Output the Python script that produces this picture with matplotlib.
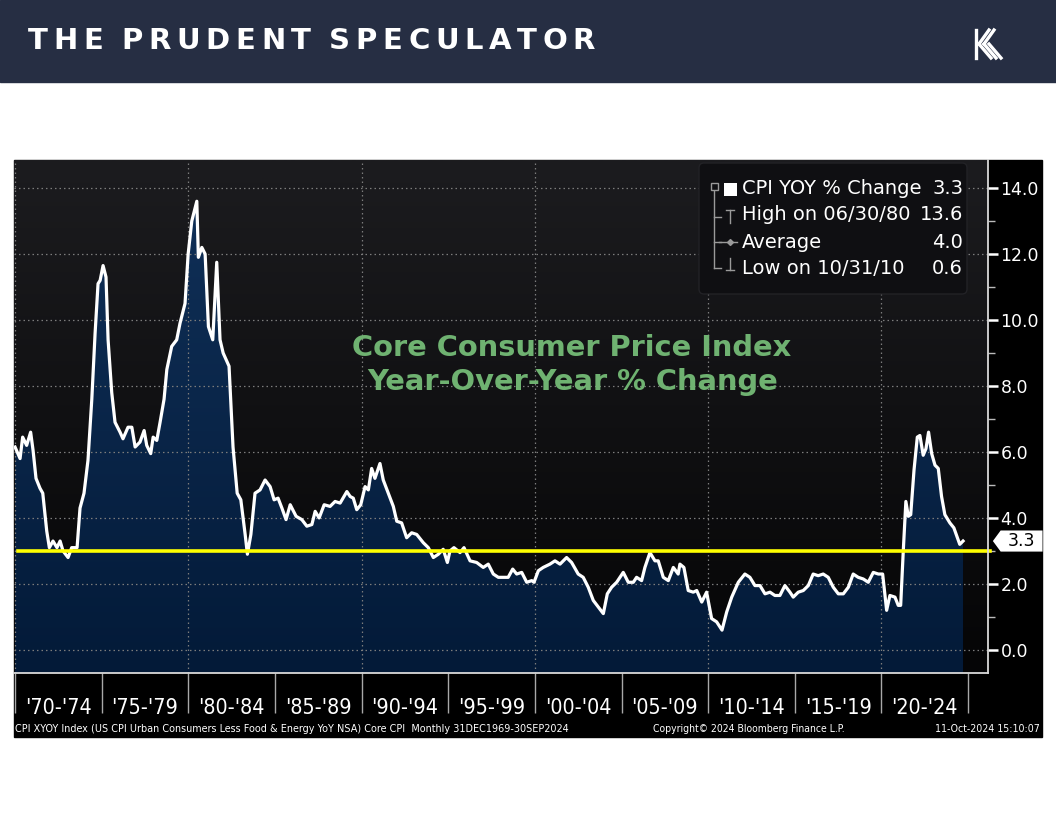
import numpy as np
import matplotlib
matplotlib.use("Agg")
import matplotlib.pyplot as plt
from matplotlib.colors import LinearSegmentedColormap
from matplotlib.lines import Line2D
from matplotlib.patches import FancyBboxPatch, PathPatch, Polygon, Rectangle
from matplotlib.transforms import IdentityTransform, blended_transform_factory

W, H = 1056, 816

# month-end readings of core CPI YoY %
YEARS = [
    1970.00, 1970.29, 1970.44, 1970.67, 1970.90, 1971.04, 1971.21, 1971.44, 1971.60, 1971.83,
    1971.98, 1972.19, 1972.42, 1972.60, 1972.77, 1973.06, 1973.27, 1973.58, 1973.75, 1973.98,
    1974.21, 1974.43, 1974.62, 1974.79, 1974.91, 1975.08, 1975.25, 1975.37, 1975.58, 1975.77,
    1976.06, 1976.23, 1976.52, 1976.74, 1976.93, 1977.21, 1977.45, 1977.60, 1977.83, 1977.97,
    1978.18, 1978.37, 1978.60, 1978.76, 1979.04, 1979.33, 1979.52, 1979.81, 1979.99, 1980.20,
    1980.49, 1980.58, 1980.78, 1980.97, 1981.16, 1981.41, 1981.64, 1981.83, 1982.01, 1982.35,
    1982.58, 1982.82, 1983.03, 1983.28, 1983.41, 1983.61, 1983.85, 1984.14, 1984.43, 1984.72,
    1984.95, 1985.18, 1985.40, 1985.64, 1985.88, 1986.22, 1986.55, 1986.84, 1987.13, 1987.32,
    1987.55, 1987.84, 1988.18, 1988.47, 1988.76, 1989.15, 1989.34, 1989.52, 1989.72, 1989.95,
    1990.20, 1990.39, 1990.58, 1990.77, 1991.06, 1991.25, 1991.54, 1991.83, 1992.03, 1992.31,
    1992.60, 1992.89, 1993.18, 1993.56, 1993.85, 1994.14, 1994.43, 1994.71, 1994.95, 1995.10,
    1995.33, 1995.68, 1995.91, 1996.26, 1996.64, 1997.02, 1997.31, 1997.60, 1997.89, 1998.18,
    1998.46, 1998.72, 1998.95, 1999.24, 1999.53, 1999.82, 1999.95, 2000.20, 2000.48, 2000.87,
    2001.16, 2001.45, 2001.83, 2002.12, 2002.50, 2002.79, 2003.08, 2003.37, 2003.66, 2003.95,
    2004.18, 2004.43, 2004.72, 2005.10, 2005.39, 2005.68, 2005.87, 2006.16, 2006.35, 2006.64,
    2006.93, 2007.12, 2007.41, 2007.70, 2007.99, 2008.27, 2008.37, 2008.60, 2008.85, 2009.14,
    2009.34, 2009.63, 2009.91, 2010.20, 2010.49, 2010.80, 2011.07, 2011.36, 2011.74, 2012.12,
    2012.41, 2012.70, 2012.99, 2013.28, 2013.57, 2013.85, 2014.14, 2014.43, 2014.72, 2014.91,
    2015.20, 2015.49, 2015.78, 2016.06, 2016.35, 2016.64, 2016.93, 2017.22, 2017.51, 2017.80,
    2018.09, 2018.37, 2018.66, 2018.95, 2019.24, 2019.53, 2019.82, 2020.07, 2020.30, 2020.49,
    2020.78, 2020.97, 2021.11, 2021.26, 2021.41, 2021.55, 2021.69, 2021.88, 2022.07, 2022.22,
    2022.41, 2022.57, 2022.72, 2022.90, 2023.09, 2023.28, 2023.47, 2023.66, 2023.95, 2024.18,
    2024.52, 2024.71,
]
CORE_CPI = [
    6.15, 5.8, 6.45, 6.2, 6.6, 6.05, 5.2, 4.9, 4.75, 3.6,
    3.1, 3.3, 3.1, 3.3, 3.0, 2.8, 3.1, 3.1, 4.3, 4.75,
    5.75, 7.6, 9.6, 11.1, 11.2, 11.65, 11.3, 9.4, 7.8, 6.9,
    6.6, 6.4, 6.75, 6.75, 6.15, 6.3, 6.65, 6.2, 5.95, 6.45,
    6.35, 6.9, 7.6, 8.5, 9.2, 9.4, 9.9, 10.5, 12.0, 13.0,
    13.6, 11.9, 12.2, 12.0, 9.8, 9.4, 11.75, 9.4, 9.0, 8.6,
    6.15, 4.75, 4.55, 3.5, 2.9, 3.5, 4.75, 4.85, 5.15, 4.95,
    4.55, 4.6, 4.3, 3.95, 4.4, 4.05, 3.95, 3.75, 3.8, 4.2,
    4.0, 4.4, 4.35, 4.5, 4.45, 4.8, 4.65, 4.6, 4.25, 4.4,
    4.95, 4.85, 5.5, 5.2, 5.65, 5.15, 4.75, 4.35, 3.9, 3.85,
    3.4, 3.55, 3.5, 3.25, 3.1, 2.8, 2.9, 3.05, 2.65, 3.0,
    3.1, 2.95, 3.1, 2.7, 2.65, 2.5, 2.6, 2.3, 2.2, 2.2,
    2.2, 2.45, 2.3, 2.35, 2.05, 2.1, 2.05, 2.4, 2.5, 2.6,
    2.7, 2.6, 2.8, 2.65, 2.3, 2.2, 1.9, 1.5, 1.3, 1.1,
    1.7, 1.9, 2.05, 2.35, 2.05, 2.05, 2.2, 2.1, 2.5, 2.95,
    2.7, 2.7, 2.2, 2.1, 2.5, 2.3, 2.6, 2.5, 1.8, 1.75,
    1.8, 1.45, 1.75, 0.95, 0.85, 0.6, 1.15, 1.6, 2.05, 2.3,
    2.2, 1.95, 1.95, 1.7, 1.75, 1.65, 1.65, 1.95, 1.75, 1.6,
    1.75, 1.8, 1.95, 2.3, 2.25, 2.3, 2.2, 1.9, 1.7, 1.7,
    1.9, 2.3, 2.2, 2.15, 2.05, 2.35, 2.3, 2.3, 1.2, 1.65,
    1.6, 1.35, 1.35, 3.0, 4.5, 4.05, 4.1, 5.45, 6.45, 6.5,
    5.9, 6.1, 6.6, 5.95, 5.6, 5.5, 4.65, 4.1, 3.85, 3.7,
    3.2, 3.3,
]

TARGET_LINE = 3.0
Y_TICKS = [0, 2, 4, 6, 8, 10, 12, 14]
Y_MINOR = [1, 3, 5, 7, 9, 11, 13]
GRID_YEARS = [1970, 1980, 1990, 2000, 2010, 2020]
PERIOD_STARTS = [1970, 1975, 1980, 1985, 1990, 1995, 2000, 2005, 2010, 2015, 2020, 2025]
PERIOD_LABELS = ["'70-'74", "'75-'79", "'80-'84", "'85-'89", "'90-'94", "'95-'99",
                 "'00-'04", "'05-'09", "'10-'14", "'15-'19", "'20-'24"]
LEGEND_LABELS = ["CPI YOY % Change", "High on 06/30/80", "Average", "Low on 10/31/10"]
LEGEND_VALUES = ["3.3", "13.6", "4.0", "0.6"]

XMIN, XMAX = 1969.94, 2026.15
YMIN, YMAX = -0.70, 14.85

fig = plt.figure(figsize=(W / 100, H / 100), dpi=100)
fig.patch.set_facecolor("white")
renderer = fig.canvas.get_renderer()


def fx(px):
    return px / W


def fy(py):
    return 1 - py / H


def fit(t, target):
    w = t.get_window_extent(renderer).width
    t.set_fontsize(t.get_fontsize() * target / w)


# header band
fig.add_artist(Rectangle((0, fy(82)), 1, 82 / H, transform=fig.transFigure,
                         color="#262e43", zorder=-2))

# spaced out brand name
brand = "THE PRUDENT SPECULATOR"
size = 21
widths = []
for ch in brand:
    if ch == " ":
        widths.append(size * 100 / 72 * 0.25)
        continue
    t = fig.text(0, 0, ch, fontsize=size, fontweight="bold", family="DejaVu Sans")
    widths.append(t.get_window_extent(renderer).width)
    t.remove()
gap = (595 - 28 - sum(widths)) / (len(brand) - 1)
x = 28
for ch, w in zip(brand, widths):
    if ch != " ":
        fig.text(fx(x), fy(41), ch, fontsize=size, fontweight="bold", family="DejaVu Sans",
                 color="white", ha="left", va="center")
    x += w + gap

# logo
for line in [([976, 976], [30, 58]),
             ([979, 989], [44, 30]), ([984, 994], [44, 30]),
             ([979, 991], [44, 58]), ([984, 996], [44, 58]), ([989, 1001], [44, 58])]:
    fig.add_artist(Line2D(line[0], [H - v for v in line[1]], transform=IdentityTransform(),
                          color="white", lw=2.4))

# bloomberg panel
fig.add_artist(Rectangle((fx(14), fy(737)), fx(1042) - fx(14), (737 - 160) / H,
                         transform=fig.transFigure, color="black", zorder=-1))

ax = fig.add_axes([fx(14), fy(673), 974 / W, 513 / H])
ax.set_facecolor("black")

grad = np.linspace(0, 1, 256).reshape(-1, 1)
bg_cmap = LinearSegmentedColormap.from_list("bg", ["#050506", "#1c1c1f"])
ax.imshow(grad, extent=[XMIN, XMAX, YMIN, YMAX], origin="lower", cmap=bg_cmap,
          aspect="auto", zorder=0)

fill = ax.fill_between(YEARS, CORE_CPI, YMIN, facecolor="none", edgecolor="none")
clip = PathPatch(fill.get_paths()[0], transform=ax.transData, facecolor="none", edgecolor="none")
ax.add_patch(clip)
fill_cmap = LinearSegmentedColormap.from_list("fill", ["#031a38", "#103058"])
im = ax.imshow(grad, extent=[XMIN, XMAX, YMIN, 14.0], origin="lower", cmap=fill_cmap,
               aspect="auto", zorder=2)
im.set_clip_path(clip)

for v in Y_TICKS:
    ax.axhline(v, color="#7c7c7c", lw=0.9, ls=(0, (1.2, 2.4)), zorder=3)
for yr in GRID_YEARS:
    ax.axvline(yr, color="#7c7c7c", lw=0.9, ls=(0, (1.2, 2.4)), zorder=3)

ax.plot(YEARS, CORE_CPI, color="white", lw=2.3, zorder=5)
ax.axhline(TARGET_LINE, xmin=0.004, xmax=1.002, color="#ffff00", lw=2.6, zorder=6, clip_on=False)

ax.set_xlim(XMIN, XMAX)
ax.set_ylim(YMIN, YMAX)

for s in ["top", "left"]:
    ax.spines[s].set_visible(False)
for s in ["right", "bottom"]:
    ax.spines[s].set_color("#d9d9d9")
    ax.spines[s].set_linewidth(1.3)
    ax.spines[s].set_zorder(7)

ax.yaxis.tick_right()
ax.set_yticks(Y_TICKS, [f"{v:.1f}" for v in Y_TICKS])
ax.set_yticks(Y_MINOR, minor=True)
ax.tick_params(axis="y", which="major", direction="out", length=7, width=1.8,
               colors="white", labelsize=12.5, pad=2)
ax.tick_params(axis="y", which="minor", direction="out", length=5, width=1, colors="#bbbbbb")

centers = [s + 2.5 for s in PERIOD_STARTS[:-1]]
ax.set_xticks(PERIOD_STARTS, [""] * len(PERIOD_STARTS))
ax.set_xticks(centers, PERIOD_LABELS, minor=True)
ax.tick_params(axis="x", which="major", direction="out", length=29, width=1, color="#a8a8a8")
ax.tick_params(axis="x", which="minor", length=0, labelsize=15, labelcolor="white", pad=18)
for lbl in ax.get_xticklabels(minor=True):
    lbl.set_fontstretch("condensed")
fig.canvas.draw()
first = ax.get_xticklabels(minor=True)[0]
new_size = 15 * 66 / first.get_window_extent(renderer).width
for lbl in ax.get_xticklabels(minor=True):
    lbl.set_fontsize(new_size)

# last value tag
trans = blended_transform_factory(ax.transAxes, ax.transData)
last = CORE_CPI[-1]
half = 0.32
ax.add_patch(Polygon([[1.005, last], [1.013, last + half], [1.056, last + half],
                      [1.056, last - half], [1.013, last - half]], closed=True,
                     transform=trans, clip_on=False, facecolor="white", edgecolor="none", zorder=10))
ax.text(1.034, last, f"{last:.1f}", transform=trans, ha="center", va="center",
        color="black", fontsize=12.5, clip_on=False, zorder=11)

# chart title
t1 = fig.text(fx(572), fy(348), "Core Consumer Price Index", ha="center", va="center",
              fontsize=19, fontweight="bold", color="#6fb271")
fit(t1, 440)
fig.text(fx(573), fy(382), "Year-Over-Year % Change", ha="center", va="center",
         fontsize=t1.get_fontsize(), fontweight="bold", color="#6fb271")

# legend panel
fig.add_artist(FancyBboxPatch((699, H - 294), 268, 131, boxstyle="round,pad=0,rounding_size=5",
                              transform=IdentityTransform(), facecolor="#0f0f12",
                              edgecolor="#222226", lw=1, zorder=2))
gray = "#9a9a9a"
for xs, ys in [([714, 714], [190, 268]), ([714, 721], [217, 217]), ([714, 721], [242, 242]),
               ([714, 721], [268, 268]), ([726, 734], [210, 210]), ([730, 730], [210, 223]),
               ([719, 737], [242, 242]), ([730, 730], [258, 270]), ([726, 734], [270, 270])]:
    fig.add_artist(Line2D(xs, [H - v for v in ys], transform=IdentityTransform(),
                          color=gray, lw=1, zorder=3))
fig.add_artist(Line2D([730], [H - 242], transform=IdentityTransform(), marker="D",
                      markersize=3, color=gray, zorder=3))
fig.add_artist(Rectangle((711, H - 190), 7, 7, transform=IdentityTransform(),
                         facecolor="#0f0f12", edgecolor=gray, lw=1, zorder=4))
fig.add_artist(Rectangle((724, H - 196), 13, 13, transform=IdentityTransform(),
                         facecolor="white", edgecolor="none", zorder=4))
for i, (label, value) in enumerate(zip(LEGEND_LABELS, LEGEND_VALUES)):
    ry = [189, 215, 242, 268][i]
    fig.text(fx(742), fy(ry), label, ha="left", va="center", fontsize=14, color="white")
    fig.text(fx(963), fy(ry), value, ha="right", va="center", fontsize=14, color="white")

# footer
f1 = fig.text(fx(15), fy(729), "CPI XYOY Index (US CPI Urban Consumers Less Food & Energy YoY NSA) "
              "Core CPI  Monthly 31DEC1969-30SEP2024", ha="left", va="center",
              fontsize=7, color="white", fontstretch="condensed")
fit(f1, 553)
f2 = fig.text(fx(653), fy(729), "Copyright\u00a9 2024 Bloomberg Finance L.P.", ha="left",
              va="center", fontsize=7, color="white", fontstretch="condensed")
fit(f2, 194)
f3 = fig.text(fx(1040), fy(729), "11-Oct-2024 15:10:07", ha="right", va="center",
              fontsize=7, color="white", fontstretch="condensed")
fit(f3, 105)

fig.savefig("out.png", dpi=100, facecolor="white")
